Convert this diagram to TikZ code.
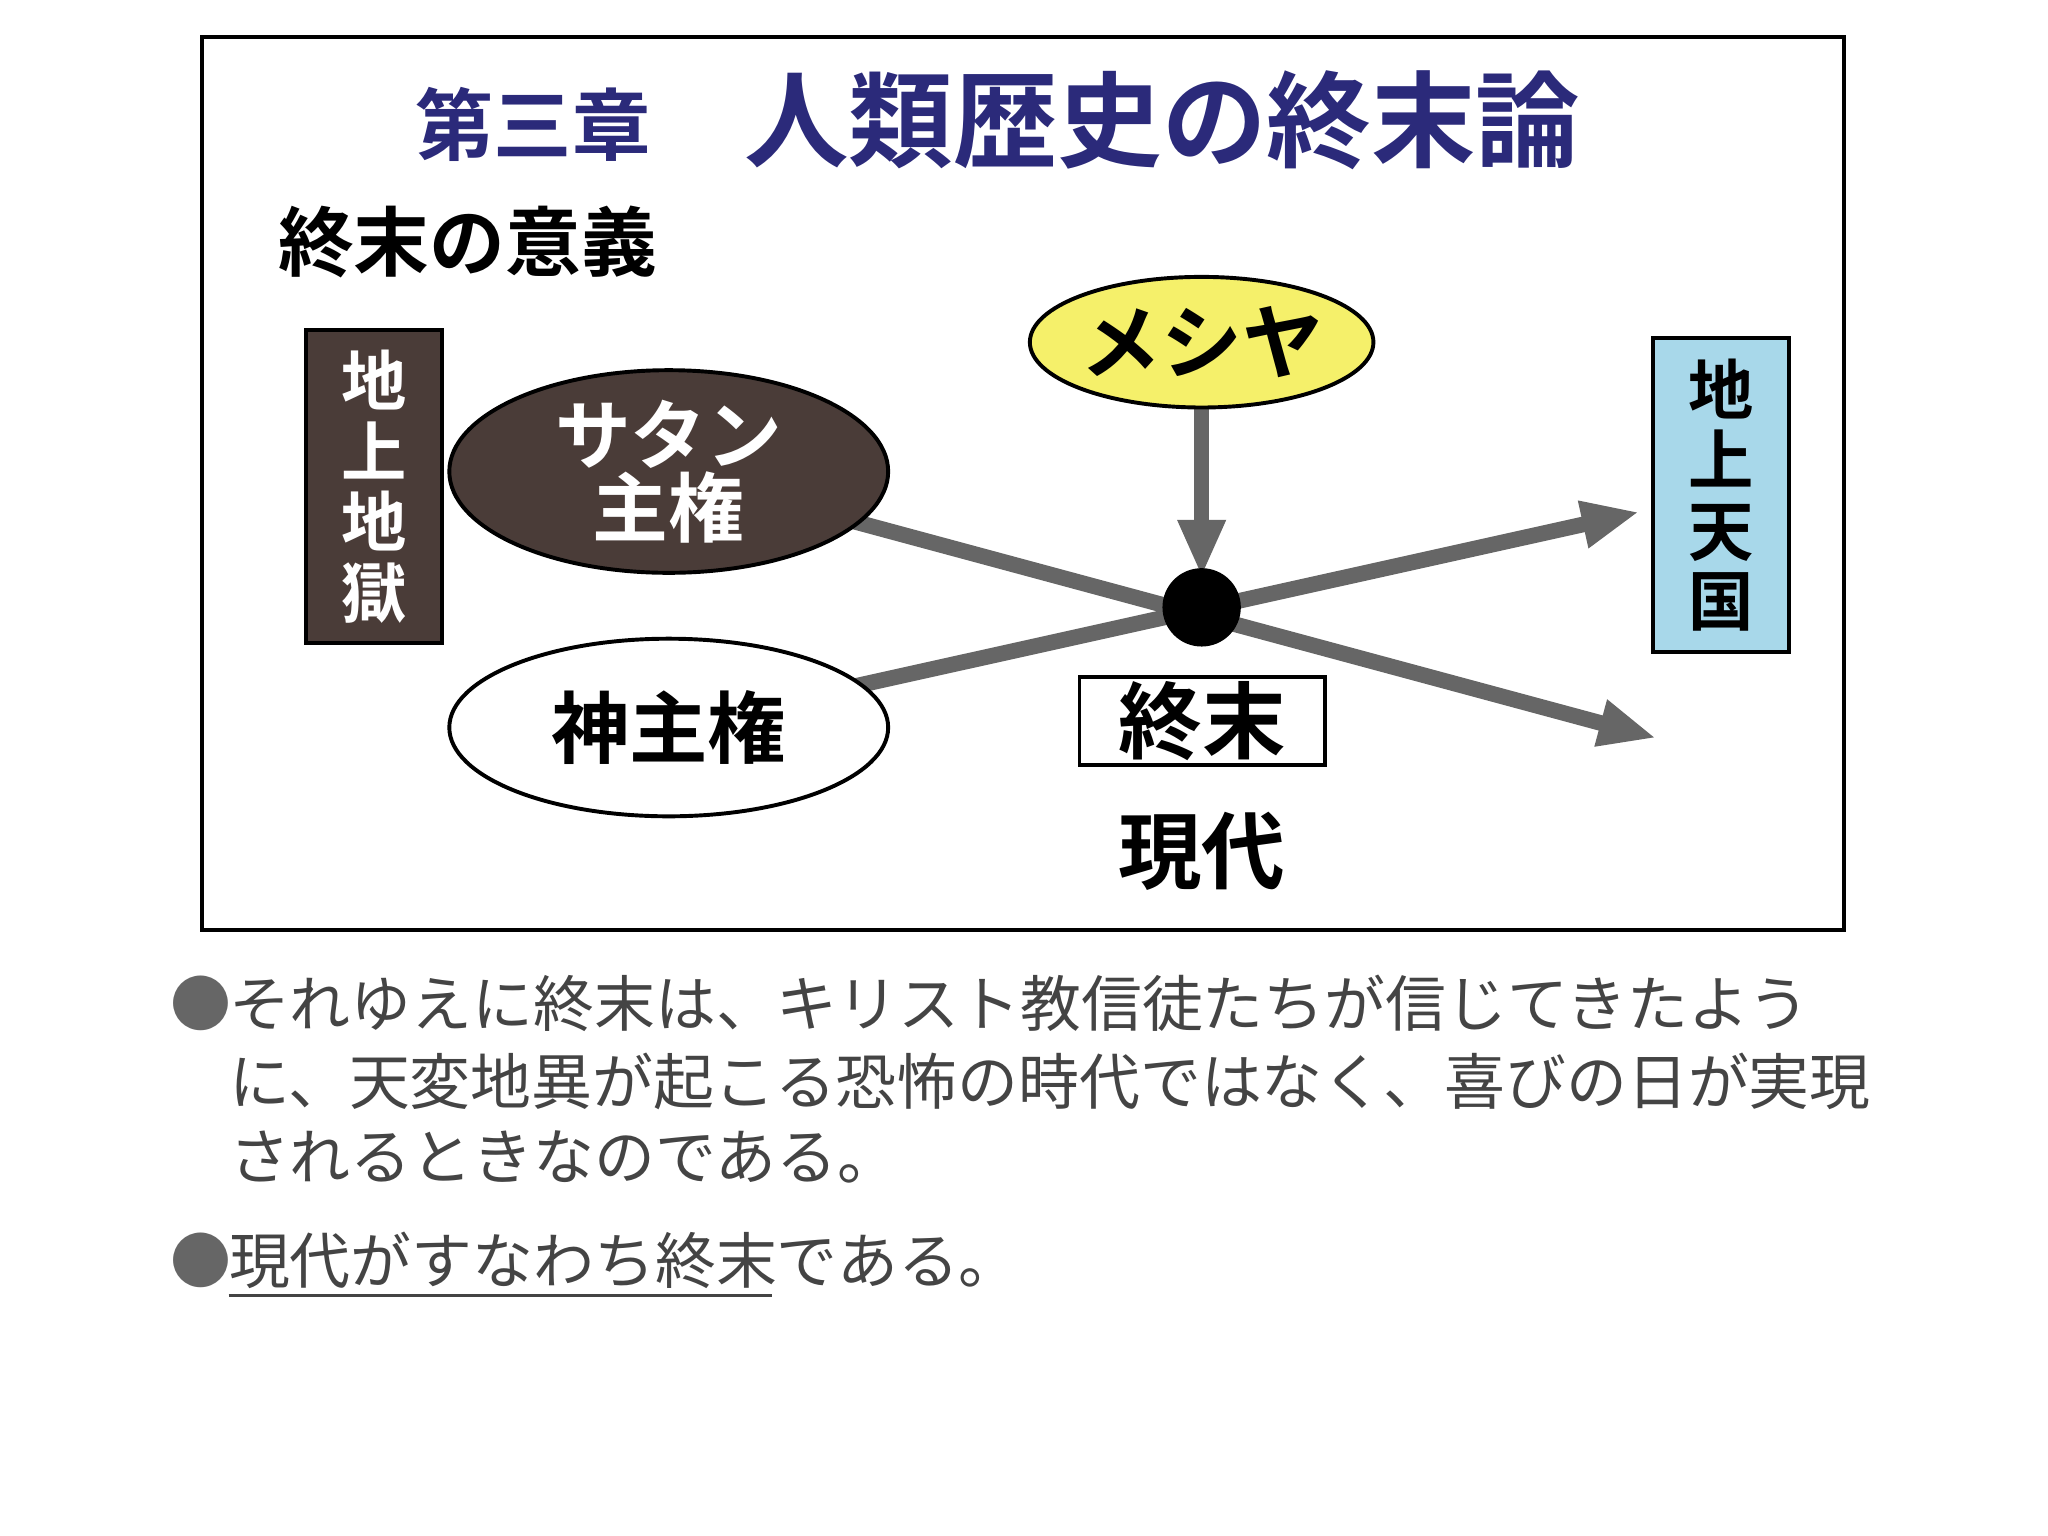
\documentclass[tikz,border=0pt]{standalone}
\usepackage{fontspec}
\setmainfont{Noto Sans CJK JP}
\newfontfamily\jb{Noto Sans CJK JP Bold}
\usetikzlibrary{arrows.meta,backgrounds,shapes.geometric}
\definecolor{navy}{HTML}{2B2A7A}
\definecolor{brn}{HTML}{4A3C38}
\definecolor{ylw}{HTML}{F5F06A}
\definecolor{lblue}{HTML}{A8D8EA}
\definecolor{arr}{HTML}{666666}
\definecolor{txt}{HTML}{444444}
\begin{document}
\begin{tikzpicture}[x=0.5pt,y=-0.5pt,
  bigarrow/.style={draw=arr,line width=6pt,-{Triangle[length=22pt,width=17pt]}},
  vbox/.style={draw=black,line width=1.5pt,minimum width=52pt,minimum height=120pt,inner sep=0pt,align=center,font=\jb\fontsize{25}{27}\selectfont},
  ell/.style={ellipse,draw=black,line width=1.5pt,inner sep=0pt},
  body/.style={anchor=west,text=txt,font=\fontsize{23.3}{28}\selectfont,inner sep=0pt}]
\useasboundingbox (0,0) rectangle (1568,1176);
\draw[line width=1.5pt] (155,28) rectangle (1412,712);
\node[text=navy,font=\jb\fontsize{30}{32}\selectfont] (t1) at (408,95) {第三章};
\node[text=navy,font=\jb\fontsize{40}{42}\selectfont] (t2) at (890,92) {人類歴史の終末論};
\node[font=\jb\fontsize{29}{32}\selectfont] (sub) at (358,185) {終末の意義};
\node[vbox,fill=brn,text=white] (hell) at (286.5,372.5) {地\\上\\地\\獄};
\node[vbox,fill=lblue] (heaven) at (1317.5,379) {地\\上\\天\\国};
\node[ell,fill=brn,text=white,minimum width=168pt,minimum height=68pt,align=center,font=\jb\fontsize{29}{28}\selectfont] (sat) at (512,361) {サタン\\主権};
\node[ell,fill=white,minimum width=168pt,minimum height=68pt,font=\jb\fontsize{30}{32}\selectfont] (god) at (512,557) {神主権};
\node[ell,fill=ylw,minimum width=123pt,minimum height=50pt,font=\jb\fontsize{31}{32}\selectfont] (mes) at (920,262) {メシヤ};
\node[circle,fill=black,minimum size=30pt,inner sep=0pt] (dot) at (920,465) {};
\node[draw=black,line width=1.5pt,minimum width=94pt,minimum height=34pt,inner sep=0pt,font=\jb\fontsize{32}{34}\selectfont] (end) at (920.5,552) {終末};
\node[font=\jb\fontsize{32}{34}\selectfont] (now) at (920,652) {現代};
\coordinate (e1) at (1268,565);
\coordinate (e2) at (1255,392);
\coordinate (e3) at (920,442);
\begin{scope}[on background layer]
\draw[bigarrow] (sat.center) -- (e1);
\draw[bigarrow] (god.center) -- (e2);
\draw[bigarrow] (mes.center) -- (e3);
\end{scope}
\node[body,text=arr] (b1) at (130,768) {●};
\node[body] (l1) at (175,768) {それゆえに終末は、キリスト教信徒たちが信じてきたよう};
\node[body] (l2) at (175,828) {に、天変地異が起こる恐怖の時代ではなく、喜びの日が実現};
\node[body] (l3) at (175,886) {されるときなのである。};
\node[body,text=arr] (b2) at (130,965) {●};
\node[body] (l4) at (175,965) {現代がすなわち終末である。};
\draw[txt,line width=1pt] (175,992) -- (591,992);
\end{tikzpicture}
\end{document}
